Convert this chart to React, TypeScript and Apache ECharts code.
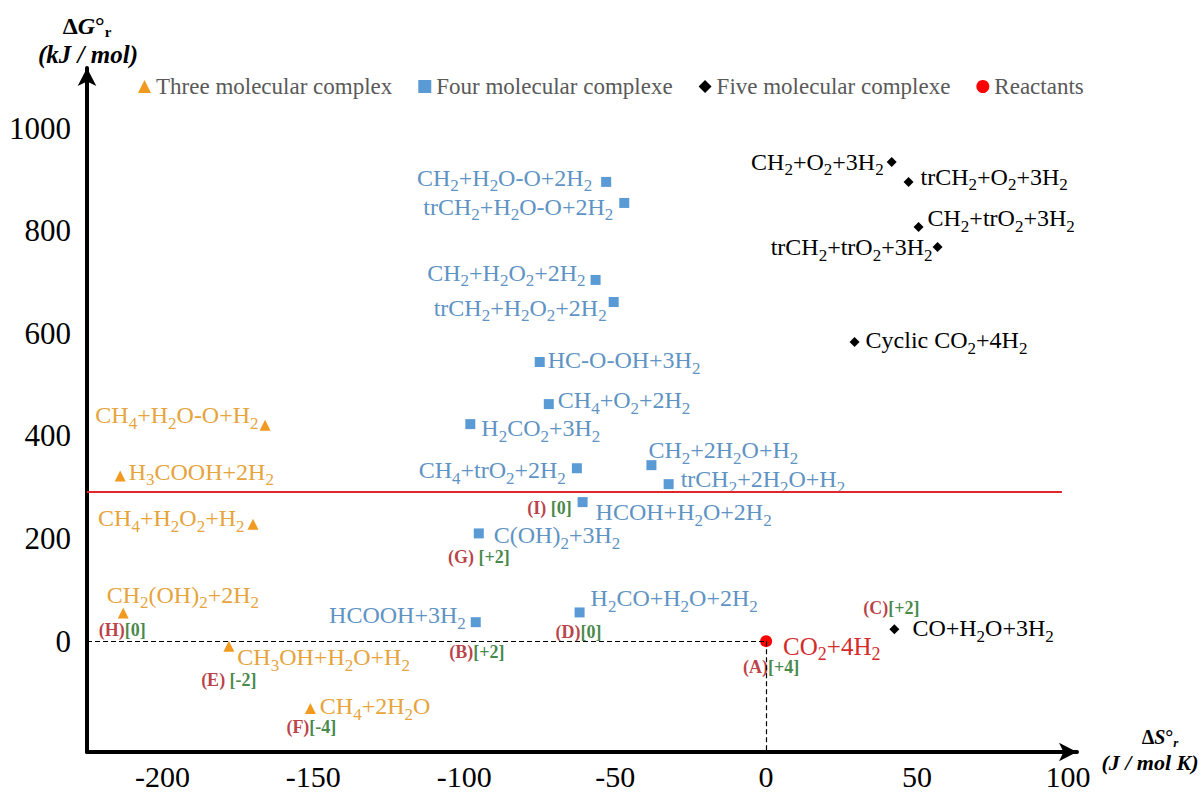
import React, { useEffect, useRef } from "react";
import * as echarts from "echarts";

// ---------- DATA ----------
const threeNames = ["CH4+H2O-O+H2", "H3COOH+2H2", "CH4+H2O2+H2", "CH2(OH)2+2H2", "CH3OH+H2O+H2", "CH4+2H2O"];
const threeDS = [-166, -214, -170, -213, -178, -151];
const threeDG = [421, 322, 228, 55, -10, -131];

const fourNames = [
  "CH2+H2O-O+2H2", "trCH2+H2O-O+2H2", "CH2+H2O2+2H2", "trCH2+H2O2+2H2", "HC-O-OH+3H2",
  "CH4+O2+2H2", "H2CO2+3H2", "CH4+trO2+2H2", "CH2+2H2O+H2", "trCH2+2H2O+H2",
  "HCOH+H2O+2H2", "C(OH)2+3H2", "HCOOH+3H2", "H2CO+H2O+2H2",
];
const fourDS = [-53, -47, -56.5, -50.5, -75, -72, -98, -62.7, -38, -32.3, -60.8, -95.2, -96.2, -61.8];
const fourDG = [895, 854, 704, 661, 544, 462, 423, 337, 343, 306, 271, 210, 37, 56];

const fiveNames = ["CH2+O2+3H2", "trCH2+O2+3H2", "CH2+trO2+3H2", "trCH2+trO2+3H2", "Cyclic CO2+4H2", "CO+H2O+3H2"];
const fiveDS = [41.6, 47.2, 50.5, 56.8, 29.3, 42.5];
const fiveDG = [934, 895, 807, 768, 583, 23];

const reactNames = ["CO2+4H2"];
const reactDS = [0];
const reactDG = [0];

// annotations: (letter)[oxidation change] attached to a species
const annotTargets = ["CO2+4H2", "HCOOH+3H2", "CO+H2O+3H2", "H2CO+H2O+2H2", "CH3OH+H2O+H2", "CH4+2H2O", "C(OH)2+3H2", "CH2(OH)2+2H2", "HCOH+H2O+2H2"];
const annotTexts = ["(A)[+4]", "(B)[+2]", "(C)[+2]", "(D)[0]", "(E) [-2]", "(F)[-4]", "(G) [+2]", "(H)[0]", "(I) [0]"];

const xTickLabels = [-200, -150, -100, -50, 0, 50, 100];
const yTickLabels = [0, 200, 400, 600, 800, 1000];

const THRESHOLD_DG = 292; // red horizontal line
const THRESHOLD_END_DS = 98;

const seriesNames = ["Three molecular complex", "Four molecular complexe", "Five molecular complexe", "Reactants"];

// ---------- LAYOUT / STYLE ----------
const X_MIN = -225, X_MAX = 103, Y_MIN = -216, Y_MAX = 1117;
const FONT = "'Times New Roman', 'Liberation Serif', serif";

// label placement: [position, dx, dy]
const threePlace: [string, number, number][] = [
  ["left", 4, -10], ["right", -2, -4], ["left", 2, -6], ["right", -27, -18], ["right", -2, 11], ["right", -1, -2],
];
const fourPlace: [string, number, number][] = [
  ["left", -4, -4], ["left", -1, 4], ["left", 0, -7], ["left", 3, 6], ["right", -2, -2],
  ["right", -1, -4], ["right", 1, 4], ["left", -1, 2], ["right", -13, -15], ["right", 2, -5],
  ["right", 3, 10], ["right", 5, 2], ["left", 0, -7], ["right", 1, -14],
];
const fivePlace: [string, number, number][] = [
  ["left", 2, 0], ["right", 2, -5], ["right", -1, -9], ["left", 5, 0], ["right", 1, -2], ["right", 8, -1],
];
const reactPlace: [string, number, number][] = [["right", 6, 5]];
const annotOffsets: [number, number][] = [
  [5, 26], [1, 30], [-3, -21], [-1, 20], [0, 34], [1, 19], [0, 24], [-1, 17], [-33, 6],
];

function toRich(s: string): string {
  let out = "";
  let buf = "";
  let mode = "";
  const flush = () => {
    if (buf) out += `{${mode}|${buf}}`;
    buf = "";
  };
  for (let i = 0; i < s.length; i++) {
    const c = s[i];
    const prev = i > 0 ? s[i - 1] : "";
    const m = /[0-9]/.test(c) && /[A-Za-z)]/.test(prev) ? "s" : "m";
    if (m !== mode) {
      flush();
      mode = m;
    }
    buf += c;
  }
  flush();
  return out;
}

function richFor(color: string, size: number) {
  return {
    m: { fontFamily: FONT, fontSize: size, color, lineHeight: 28 },
    s: { fontFamily: FONT, fontSize: Math.round(size * 0.7), color, lineHeight: 12, padding: [16, 0, 0, 0] },
  };
}

function buildData(names: string[], xs: number[], ys: number[], place: [string, number, number][]) {
  return names.map((n, i) => ({
    name: n,
    value: [xs[i], ys[i]],
    label: { position: place[i][0], offset: [place[i][1], place[i][2]] },
  }));
}

function findPoint(name: string): [number, number] {
  const groups: [string[], number[], number[]][] = [
    [threeNames, threeDS, threeDG],
    [fourNames, fourDS, fourDG],
    [fiveNames, fiveDS, fiveDG],
    [reactNames, reactDS, reactDG],
  ];
  for (const [n, xs, ys] of groups) {
    const i = n.indexOf(name);
    if (i >= 0) return [xs[i], ys[i]];
  }
  return [0, 0];
}

function annotRich(t: string): string {
  const m = t.match(/^(\([A-Z]\))(\s*)(\[.*\])$/);
  if (!m) return t;
  return `{r|${m[1]}}${m[2] ? "{r| }" : ""}{g|${m[3]}}`;
}

const ORANGE_M = "#F29A1F";
const ORANGE_T = "#E6A43C";
const BLUE_M = "#5B9BD5";
const BLUE_T = "#5E93C4";
const BLACK = "#000000";
const RED_M = "#FF0000";
const RED_T = "#D42A2A";

export default function App() {
  const ref = useRef<HTMLDivElement>(null);

  useEffect(() => {
    document.body.style.margin = "0";
    if (!ref.current) return;
    const chart = echarts.init(ref.current, null, { renderer: "svg" });

    const scatterSeries = (
      name: string,
      symbol: string,
      size: number,
      mColor: string,
      tColor: string,
      fontSize: number,
      data: any[]
    ) => ({
      name,
      type: "scatter",
      symbol,
      symbolSize: size,
      itemStyle: { color: mColor, opacity: 1 },
      emphasis: { disabled: true },
      label: {
        show: true,
        distance: 5,
        formatter: (p: any) => toRich(p.name),
        rich: richFor(tColor, fontSize),
      },
      data,
      z: 3,
    });

    const annotData = annotTargets.map((t, i) => ({
      name: annotTexts[i],
      value: findPoint(t),
      label: { position: "inside", offset: annotOffsets[i] },
    }));

    const dashStyle = { color: "#000", width: 1.2, type: [5, 3] };

    const option: any = {
      animation: false,
      backgroundColor: "#ffffff",
      grid: { left: 87, right: 1203 - 1077, top: 68, bottom: 44 },
      legend: {
        show: true,
        left: 133,
        top: 70,
        itemWidth: 13,
        itemHeight: 13,
        itemGap: 26,
        textStyle: { fontFamily: FONT, fontSize: 23, color: "#595959" },
        data: [
          { name: seriesNames[0], icon: "triangle" },
          { name: seriesNames[1], icon: "rect" },
          { name: seriesNames[2], icon: "diamond" },
          { name: seriesNames[3], icon: "circle" },
        ],
        selectedMode: false,
      },
      xAxis: {
        type: "value",
        min: X_MIN,
        max: X_MAX,
        interval: 25,
        axisLine: {
          show: true,
          onZero: false,
          lineStyle: { color: "#000", width: 4 },
          symbol: ["none", "arrow"],
          symbolSize: [14, 18],
        },
        axisTick: { show: false },
        splitLine: { show: false },
        axisLabel: {
          margin: 9,
          fontFamily: FONT,
          fontSize: 30,
          lineHeight: 30,
          color: "#000",
          formatter: (v: number) => (xTickLabels.indexOf(Math.round(v)) >= 0 && Math.abs(v - Math.round(v)) < 1e-6 ? String(Math.round(v)) : ""),
        },
      },
      yAxis: {
        type: "value",
        min: Y_MIN,
        max: Y_MAX,
        interval: 8,
        axisLine: {
          show: true,
          onZero: false,
          lineStyle: { color: "#000", width: 4 },
          symbol: ["none", "arrow"],
          symbolSize: [14, 18],
        },
        axisTick: { show: false },
        splitLine: { show: false },
        axisLabel: {
          margin: 16,
          fontFamily: FONT,
          fontSize: 31,
          color: "#000",
          formatter: (v: number) => (yTickLabels.indexOf(Math.round(v)) >= 0 && Math.abs(v - Math.round(v)) < 1e-6 ? String(Math.round(v)) : ""),
        },
      },
      series: [
        {
          name: "annotations",
          type: "scatter",
          symbol: "circle",
          symbolSize: 1,
          itemStyle: { color: "rgba(0,0,0,0)" },
          emphasis: { disabled: true },
          label: {
            show: true,
            fontWeight: "bold",
            fontFamily: FONT,
            fontSize: 18,
            formatter: (p: any) => annotRich(p.name),
            rich: {
              r: { fontFamily: FONT, fontSize: 18, fontWeight: 700, color: "#A80F18" },
              g: { fontFamily: FONT, fontSize: 18, fontWeight: 700, color: "#146A18" },
            },
          },
          data: annotData,
          z: 4,
          markLine: {
            silent: true,
            symbol: ["none", "none"],
            label: { show: false },
            emphasis: { disabled: true },
            data: [
              [
                { coord: [X_MIN, THRESHOLD_DG], lineStyle: { color: "#E0262B", width: 2, type: "solid" } },
                { coord: [THRESHOLD_END_DS, THRESHOLD_DG] },
              ],
              [
                { coord: [X_MIN, reactDG[0]], lineStyle: dashStyle },
                { coord: [reactDS[0], reactDG[0]] },
              ],
              [
                { coord: [reactDS[0], reactDG[0]], lineStyle: dashStyle },
                { coord: [reactDS[0], Y_MIN] },
              ],
            ],
          },
        },
        scatterSeries(seriesNames[0], "triangle", 11, ORANGE_M, ORANGE_T, 24, buildData(threeNames, threeDS, threeDG, threePlace)),
        scatterSeries(seriesNames[1], "rect", 10, BLUE_M, BLUE_T, 24, buildData(fourNames, fourDS, fourDG, fourPlace)),
        scatterSeries(seriesNames[2], "diamond", 10, BLACK, BLACK, 24, buildData(fiveNames, fiveDS, fiveDG, fivePlace)),
        scatterSeries(seriesNames[3], "circle", 12, RED_M, RED_T, 25, buildData(reactNames, reactDS, reactDG, reactPlace)),
      ],
      graphic: [
        {
          type: "text",
          x: 87,
          y: 26,
          style: {
            text: "{a|Δ}{i|G}{a|°}{r|r}",
            align: "center",
            verticalAlign: "middle",
            rich: {
              a: { fontFamily: FONT, fontSize: 24, fontWeight: "bold", color: "#000", lineHeight: 22 },
              i: { fontFamily: FONT, fontSize: 24, fontWeight: "bold", fontStyle: "italic", color: "#000", lineHeight: 22 },
              r: { fontFamily: FONT, fontSize: 15, fontWeight: "bold", color: "#000", lineHeight: 10, padding: [12, 0, 0, 0] },
            },
          },
        },
        {
          type: "text",
          x: 88,
          y: 54,
          style: {
            text: "(kJ / mol)",
            align: "center",
            verticalAlign: "middle",
            fontFamily: FONT,
            fontSize: 25,
            fontWeight: "bold",
            fontStyle: "italic",
            fill: "#000",
          },
        },
        {
          type: "text",
          x: 1160,
          y: 737,
          style: {
            text: "{a|Δ}{i|S}{a|°}{r|r}",
            align: "center",
            verticalAlign: "middle",
            rich: {
              a: { fontFamily: FONT, fontSize: 20, fontWeight: "bold", color: "#000", lineHeight: 20 },
              i: { fontFamily: FONT, fontSize: 20, fontWeight: "bold", fontStyle: "italic", color: "#000", lineHeight: 20 },
              r: { fontFamily: FONT, fontSize: 13, fontWeight: "bold", fontStyle: "italic", color: "#000", lineHeight: 10, padding: [10, 0, 0, 0] },
            },
          },
        },
        {
          type: "text",
          x: 1150,
          y: 762,
          style: {
            text: "(J / mol K)",
            align: "center",
            verticalAlign: "middle",
            fontFamily: FONT,
            fontSize: 22,
            fontWeight: "bold",
            fontStyle: "italic",
            fill: "#000",
          },
        },
      ],
    };

    chart.setOption(option);
    return () => chart.dispose();
  }, []);

  return <div ref={ref} style={{ position: "absolute", left: 0, top: 0, width: 1203, height: 796 }} />;
}
